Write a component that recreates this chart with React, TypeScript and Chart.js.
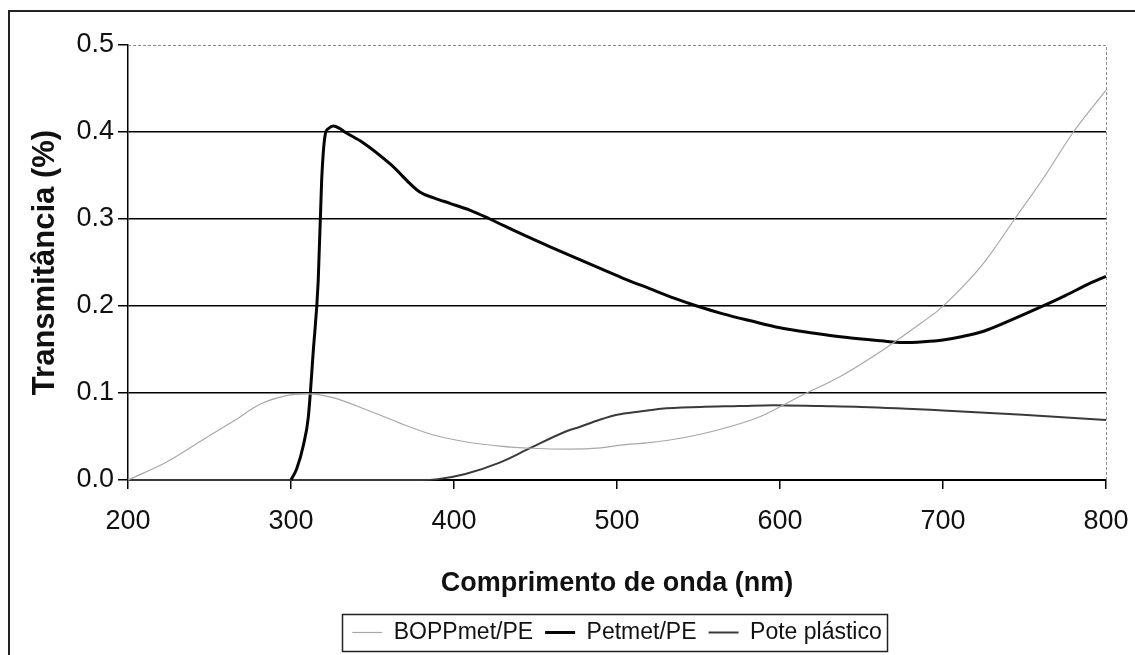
import React, { useEffect, useRef } from 'react';
import { Chart, registerables } from 'chart.js';

Chart.register(...registerables);

const FONT = "'Liberation Sans', Arial, Helvetica, sans-serif";

const seriesNames = ['BOPPmet/PE', 'Petmet/PE', 'Pote plástico'];

const boppX = [200, 224, 244, 265, 281, 297, 310, 325, 346, 366, 387, 407, 428, 448, 470, 490, 502, 520, 539, 563, 588, 612, 637, 662, 687, 697, 712, 726, 744, 762, 780, 800];
const boppY = [0, 0.021, 0.044, 0.068, 0.087, 0.097, 0.099, 0.095, 0.081, 0.066, 0.052, 0.044, 0.039, 0.0365, 0.0355, 0.037, 0.04, 0.043, 0.048, 0.058, 0.073, 0.096, 0.119, 0.148, 0.181, 0.195, 0.222, 0.252, 0.3, 0.348, 0.4, 0.448];

const petX = [300, 303.5, 307.6, 310.6, 313.7, 316.7, 318.8, 320.9, 323, 326, 330, 333, 344, 361, 379, 388, 397.5, 410, 422, 440, 459, 475, 490, 505, 520, 535, 549, 565, 582, 600, 620, 640, 662, 675, 688, 700, 712, 725, 742, 759, 775, 790, 800];
const petY = [0, 0.013, 0.04, 0.072, 0.149, 0.229, 0.344, 0.396, 0.404, 0.407, 0.404, 0.4, 0.388, 0.363, 0.331, 0.324, 0.318, 0.31, 0.3, 0.284, 0.268, 0.255, 0.243, 0.231, 0.22, 0.209, 0.2, 0.191, 0.183, 0.175, 0.169, 0.164, 0.16, 0.158, 0.159, 0.161, 0.165, 0.171, 0.184, 0.198, 0.212, 0.226, 0.234];

const poteX = [200, 300, 380, 390, 407, 428, 446, 469, 477, 489, 500, 515, 527, 551, 575, 596, 625, 650, 700, 749, 800];
const poteY = [0, 0, 0, 0.001, 0.007, 0.02, 0.036, 0.056, 0.061, 0.069, 0.075, 0.079, 0.082, 0.084, 0.085, 0.086, 0.085, 0.084, 0.08, 0.075, 0.069];

const xTicks = { min: 200, max: 800, step: 100 };
const yTicks = { min: 0, max: 0.5, step: 0.1 };

const toPoints = (xs: number[], ys: number[]) => xs.map((x, i) => ({ x, y: ys[i] }));

const plotBorderPlugin = {
  id: 'plotBorder',
  beforeDatasetsDraw(chart: any) {
    const { ctx, chartArea } = chart;
    ctx.save();
    ctx.strokeStyle = '#8a8a8a';
    ctx.lineWidth = 1;
    ctx.setLineDash([3, 2]);
    ctx.beginPath();
    ctx.moveTo(chartArea.left, chartArea.top + 0.5);
    ctx.lineTo(chartArea.right + 0.5, chartArea.top + 0.5);
    ctx.lineTo(chartArea.right + 0.5, chartArea.bottom);
    ctx.stroke();
    ctx.restore();
  },
};

const legendBoxPlugin = {
  id: 'legendBox',
  afterDraw(chart: any) {
    const lg = chart.legend;
    if (!lg || !lg.legendHitBoxes || !lg.legendHitBoxes.length) return;
    const boxes = lg.legendHitBoxes;
    let l = Infinity, r = -Infinity, t = Infinity, b = -Infinity;
    boxes.forEach((h: any) => {
      l = Math.min(l, h.left);
      r = Math.max(r, h.left + h.width);
      t = Math.min(t, h.top);
      b = Math.max(b, h.top + h.height);
    });
    const { ctx } = chart;
    ctx.save();
    ctx.strokeStyle = '#222';
    ctx.lineWidth = 1.5;
    ctx.strokeRect(Math.round(l - 10) + 0.5, Math.round(t - 7) + 0.5, Math.round(r - l + 16), Math.round(b - t + 14));
    ctx.restore();
  },
};

export default function App() {
  const ref = useRef<HTMLCanvasElement | null>(null);

  useEffect(() => {
    if (!ref.current) return;
    const chart = new Chart(ref.current, {
      type: 'line',
      data: {
        datasets: [
          {
            label: seriesNames[0],
            data: toPoints(boppX, boppY),
            borderColor: '#a8a8a8',
            borderWidth: 1.2,
            pointRadius: 0,
            cubicInterpolationMode: 'monotone',
            fill: false,
            clip: false,
          },
          {
            label: seriesNames[1],
            data: toPoints(petX, petY),
            borderColor: '#050505',
            borderWidth: 3,
            pointRadius: 0,
            cubicInterpolationMode: 'monotone',
            fill: false,
            clip: false,
          },
          {
            label: seriesNames[2],
            data: toPoints(poteX, poteY),
            borderColor: '#3a3a3a',
            borderWidth: 2,
            pointRadius: 0,
            cubicInterpolationMode: 'monotone',
            fill: false,
            clip: false,
          },
        ],
      } as any,
      options: {
        animation: false,
        responsive: false,
        maintainAspectRatio: false,
        layout: { padding: { left: 0, top: 45, right: 29, bottom: 1 } },
        plugins: {
          legend: {
            position: 'bottom',
            fullSize: false,
            labels: {
              usePointStyle: true,
              pointStyle: 'line',
              pointStyleWidth: 30,
              font: { family: FONT, size: 23 },
              color: '#111',
              padding: 12,
            },
          },
          tooltip: { enabled: false },
        },
        scales: {
          x: {
            type: 'linear',
            min: xTicks.min,
            max: xTicks.max,
            ticks: {
              stepSize: xTicks.step,
              font: { family: FONT, size: 27 },
              color: '#111',
              padding: 16,
              maxRotation: 0,
            },
            grid: {
              drawOnChartArea: false,
              tickColor: '#000',
              tickLength: 9,
              lineWidth: 1.5,
            },
            border: { color: '#000', width: 2 },
            title: {
              display: true,
              text: 'Comprimento de onda (nm)',
              font: { family: FONT, size: 27, weight: 'bold' },
              color: '#111',
              padding: { top: 0, bottom: 9 },
            },
            afterFit: (s: any) => {
              s.height = 129;
              s.paddingLeft = 0;
              s.paddingRight = 0;
            },
          },
          y: {
            type: 'linear',
            min: yTicks.min,
            max: yTicks.max,
            ticks: {
              stepSize: yTicks.step,
              callback: (v: any) => Number(v).toFixed(1),
              font: { family: FONT, size: 27 },
              color: '#111',
              padding: 4,
            },
            grid: {
              color: (c: any) =>
                c.tick && Math.abs(c.tick.value - yTicks.max) < 1e-6 ? 'rgba(0,0,0,0)' : '#000',
              tickColor: '#000',
              tickLength: 10,
              lineWidth: 1.5,
            },
            border: { color: '#000', width: 1.5 },
            title: {
              display: true,
              text: 'Transmitância (%)',
              font: { family: FONT, size: 31, weight: 'bold' },
              color: '#111',
              padding: { top: 27, bottom: 0 },
            },
            afterFit: (s: any) => {
              s.width = 128;
              s.paddingTop = 0;
              s.paddingBottom = 0;
            },
          },
        },
      } as any,
      plugins: [plotBorderPlugin, legendBoxPlugin],
    });
    return () => chart.destroy();
  }, []);

  return (
    <div style={{ position: 'fixed', left: 0, top: 0, width: 1135, height: 655, background: '#fff', overflow: 'hidden' }}>
      <canvas ref={ref} width={1135} height={655} style={{ position: 'absolute', left: 0, top: 0, width: 1135, height: 655 }} />
      <div
        style={{
          position: 'absolute',
          left: 8,
          top: 10,
          width: 1200,
          height: 700,
          borderLeft: '2px solid #222',
          borderTop: '2px solid #222',
          pointerEvents: 'none',
        }}
      />
    </div>
  );
}
